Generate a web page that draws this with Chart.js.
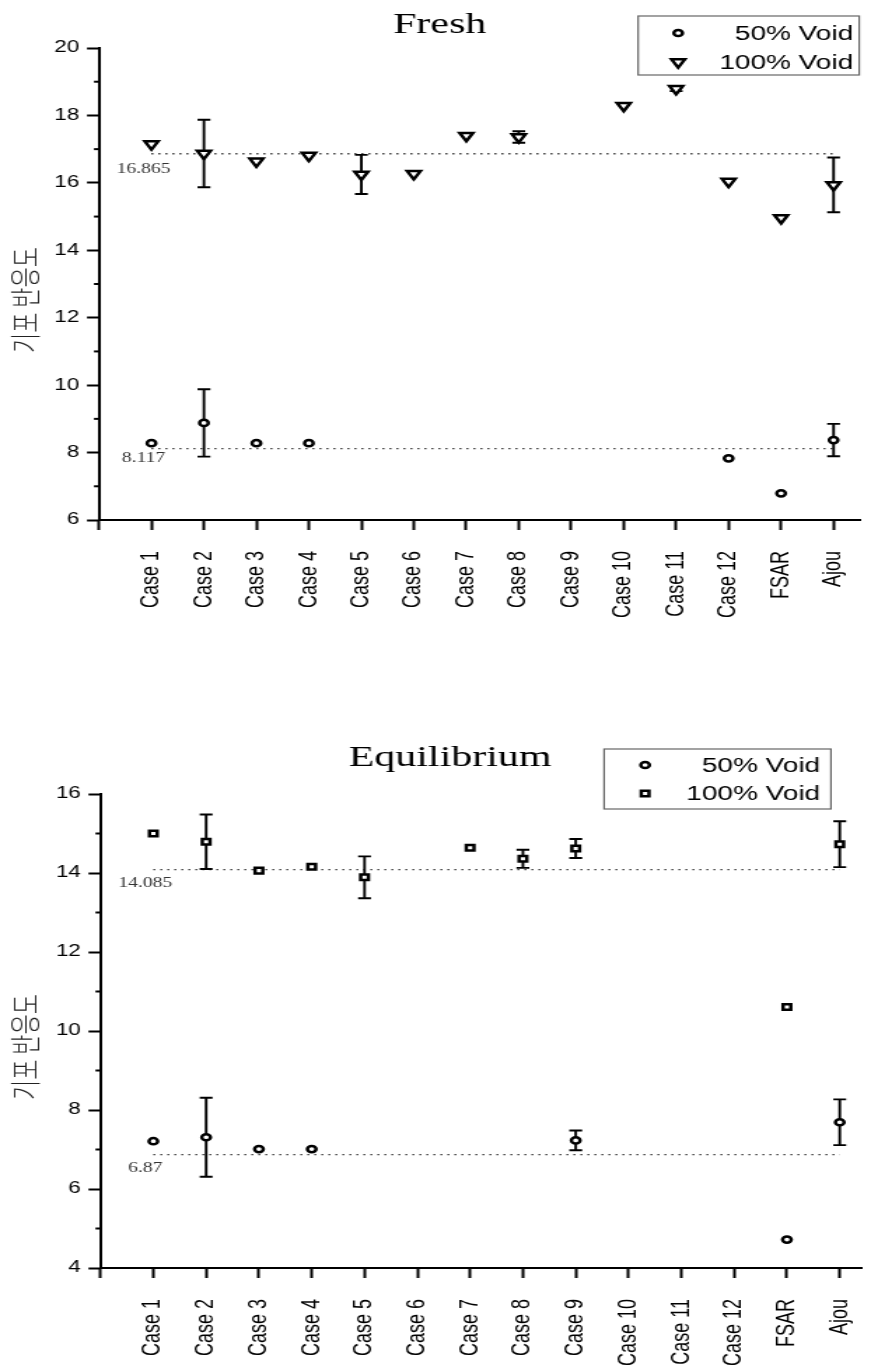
<!DOCTYPE html>
<html>
<head>
<meta charset="utf-8">
<title>Fresh / Equilibrium</title>
<script src="https://cdn.jsdelivr.net/npm/chart.js"></script>
<style>
  html, body { margin: 0; padding: 0; background: #fff; overflow: hidden; }
  canvas { display: block; }
</style>
</head>
<body>
<!-- the original figure is stretched sideways, so each canvas is drawn narrow and widened by css -->
<canvas id="fresh" width="622" height="650" style="width:871px;height:650px"></canvas>
<canvas id="equil" width="622" height="717" style="width:871px;height:717px"></canvas>
<script>
// ---- data ----
const categories = ['Case 1', 'Case 2', 'Case 3', 'Case 4', 'Case 5', 'Case 6', 'Case 7',
                    'Case 8', 'Case 9', 'Case 10', 'Case 11', 'Case 12', 'FSAR', 'Ajou'];
const seriesNames = ['50% Void', '100% Void'];

const freshVoid50     = [8.28, 8.88, 8.28, 8.28, null, null, null, null, null, null, null, 7.83, 6.79, 8.37];
const freshVoid50Err  = [0, 1.0, 0, 0, null, null, null, null, null, null, null, 0, 0, 0.48];
const freshVoid100    = [17.15, 16.87, 16.64, 16.81, 16.25, 16.27, 17.40, 17.36, null, 18.29, 18.79, 16.04, 14.96, 15.94];
const freshVoid100Err = [0, 1.0, 0, 0, 0.58, 0, 0, 0.17, null, 0, 0.07, 0, 0, 0.81];
const freshMeans      = [16.865, 8.117];

const eqVoid50     = [7.21, 7.31, 7.01, 7.01, null, null, null, null, 7.23, null, null, null, 4.72, 7.69];
const eqVoid50Err  = [0, 1.0, 0, 0, null, null, null, null, 0.25, null, null, null, 0, 0.58];
const eqVoid100    = [15.0, 14.79, 14.06, 14.16, 13.89, null, 14.64, 14.36, 14.62, null, null, null, 10.61, 14.73];
const eqVoid100Err = [0, 0.69, 0, 0, 0.53, null, 0, 0.23, 0.24, null, null, null, 0, 0.58];
const eqMeans      = [14.085, 6.87];

const yTitle = '기포 반응도';

Chart.defaults.font.family = "'Liberation Sans', Arial, sans-serif";
Chart.defaults.color = '#000';

function points(values, errors) {
    const out = [];
    values.forEach((v, i) => {
        if (v === null) return;
        out.push({ x: i + 1, y: v, err: errors[i] || 0 });
    });
    return out;
}

function dataset(label, values, errors, style, radius, rotation) {
    return {
        label: label,
        data: points(values, errors),
        showLine: false,
        pointStyle: style,
        pointRadius: radius,
        pointRotation: rotation || 0,
        pointBorderWidth: 2.5,
        pointBorderColor: '#000',
        pointBackgroundColor: '#fff',
        borderColor: '#000',
        backgroundColor: '#fff'
    };
}

function marker(ctx, ds, x, y) {
    ctx.save();
    ctx.strokeStyle = '#000';
    ctx.fillStyle = '#fff';
    ctx.lineWidth = ds.pointBorderWidth;
    Chart.helpers.drawPoint(ctx, {
        pointStyle: ds.pointStyle,
        radius: ds.pointRadius,
        rotation: ds.pointRotation,
        borderWidth: ds.pointBorderWidth
    }, x, y);
    ctx.restore();
}

// error bars, mean lines, minor ticks, title and legend box
const extras = {
    id: 'extras',
    beforeDatasetsDraw(chart, args, opts) {
        const ctx = chart.ctx, xs = chart.scales.x, ys = chart.scales.y;
        ctx.save();
        // dotted mean lines
        ctx.strokeStyle = '#222';
        ctx.lineWidth = 1.4;
        ctx.setLineDash([1.3, 3.7]);
        opts.means.forEach(m => {
            const py = ys.getPixelForValue(m);
            ctx.beginPath();
            ctx.moveTo(xs.getPixelForValue(1), py);
            ctx.lineTo(xs.getPixelForValue(14), py);
            ctx.stroke();
        });
        ctx.setLineDash([]);
        ctx.fillStyle = '#333';
        ctx.font = "14px 'Liberation Serif', serif";
        ctx.textAlign = 'center';
        ctx.textBaseline = 'middle';
        opts.means.forEach((m, i) => {
            ctx.fillText(String(m), xs.getPixelForValue(0.85), ys.getPixelForValue(m) + opts.meanLabelDy[i]);
        });
        // error bars
        ctx.strokeStyle = '#000';
        ctx.lineWidth = 1.9;
        chart.data.datasets.forEach(ds => {
            ds.data.forEach(p => {
                if (!p.err) return;
                const px = xs.getPixelForValue(p.x);
                const top = ys.getPixelForValue(p.y + p.err);
                const bot = ys.getPixelForValue(p.y - p.err);
                ctx.beginPath();
                ctx.moveTo(px, top); ctx.lineTo(px, bot);
                ctx.moveTo(px - 4.6, top); ctx.lineTo(px + 4.6, top);
                ctx.moveTo(px - 4.6, bot); ctx.lineTo(px + 4.6, bot);
                ctx.stroke();
            });
        });
        ctx.restore();
    },
    afterDraw(chart, args, opts) {
        const ctx = chart.ctx, ys = chart.scales.y, area = chart.chartArea;
        ctx.save();
        // minor ticks on the y axis
        ctx.strokeStyle = '#000';
        ctx.lineWidth = 2;
        for (let v = ys.min + 1; v < ys.max; v += 2) {
            const py = ys.getPixelForValue(v);
            ctx.beginPath();
            ctx.moveTo(area.left - 3.6, py);
            ctx.lineTo(area.left, py);
            ctx.stroke();
        }
        // title
        ctx.fillStyle = '#000';
        ctx.font = "30px 'Liberation Serif', serif";
        ctx.textAlign = 'center';
        ctx.textBaseline = 'alphabetic';
        ctx.fillText(opts.title, opts.titleX, opts.titleY);
        // y axis title
        ctx.save();
        ctx.translate(18, (area.top + area.bottom) / 2 + 16);
        ctx.rotate(-Math.PI / 2);
        ctx.fillStyle = '#222';
        ctx.font = "300 22px 'Noto Sans CJK KR', sans-serif";
        ctx.textBaseline = 'middle';
        ctx.fillText(yTitle, 0, 0);
        ctx.restore();
        // legend
        const lg = opts.legend;
        ctx.fillStyle = '#fff';
        ctx.fillRect(lg.x, lg.y, lg.w, lg.h);
        ctx.strokeStyle = '#666';
        ctx.lineWidth = 1.2;
        ctx.strokeRect(lg.x, lg.y, lg.w, lg.h);
        ctx.font = "20px 'Liberation Sans', Arial, sans-serif";
        ctx.textAlign = 'right';
        ctx.textBaseline = 'middle';
        chart.data.datasets.forEach((ds, i) => {
            marker(ctx, ds, lg.markerX, lg.rows[i]);
            ctx.fillStyle = '#000';
            ctx.fillText(ds.label, lg.textX, lg.rows[i] + 1);
        });
        ctx.restore();
    }
};

function makeChart(id, cfg) {
    return new Chart(document.getElementById(id), {
        type: 'scatter',
        data: { datasets: cfg.datasets },
        options: {
            responsive: false,
            animation: false,
            events: [],
            layout: { padding: { top: cfg.areaTop, right: 1.5, left: 0, bottom: 0 } },
            plugins: {
                legend: { display: false },
                title: { display: false },
                tooltip: { enabled: false },
                extras: cfg.extras
            },
            scales: {
                x: {
                    type: 'linear',
                    min: 0,
                    max: cfg.xMax,
                    afterFit: s => {
                        s.height = cfg.xAxisHeight;
                        // rotated labels would otherwise push the plot in from the right
                        s.paddingLeft = 0;
                        s.paddingRight = 0;
                    },
                    ticks: {
                        stepSize: 1, autoSkip: false, includeBounds: false,
                        minRotation: 90, maxRotation: 90, padding: 21,
                        color: '#000', font: { size: 18 },
                        callback: v => categories[v - 1] || ''
                    },
                    grid: { drawOnChartArea: false, drawTicks: true, tickLength: 10, tickColor: '#000', tickWidth: 2 },
                    border: { color: '#000', width: 2 }
                },
                y: {
                    min: cfg.yMin,
                    max: cfg.yMax,
                    afterFit: s => { s.width = cfg.yAxisWidth; },
                    ticks: { stepSize: 2, padding: 5.5, color: '#000', font: { size: 16 } },
                    grid: { drawOnChartArea: false, drawTicks: true, tickLength: 8.6, tickColor: '#000', tickWidth: 2 },
                    border: { color: '#000', width: 2 }
                }
            }
        },
        plugins: [extras]
    });
}

makeChart('fresh', {
    datasets: [
        dataset(seriesNames[0], freshVoid50, freshVoid50Err, 'circle', 3.1),
        dataset(seriesNames[1], freshVoid100, freshVoid100Err, 'triangle', 5.5, 180)
    ],
    yMin: 6, yMax: 20, xMax: 14.5,
    areaTop: 48, xAxisHeight: 130, yAxisWidth: 70.7,
    extras: {
        title: 'Fresh', titleX: 314, titleY: 33,
        means: freshMeans, meanLabelDy: [16, 10],
        legend: { x: 455.7, y: 16, w: 157.9, h: 59, markerX: 484.3, textX: 609.3, rows: [33, 62] }
    }
});

makeChart('equil', {
    datasets: [
        dataset(seriesNames[0], eqVoid50, eqVoid50Err, 'circle', 3.1),
        dataset(seriesNames[1], eqVoid100, eqVoid100Err, 'rect', 3.9)
    ],
    yMin: 4, yMax: 16, xMax: 14.42,
    areaTop: 144, xAxisHeight: 99, yAxisWidth: 71.8,
    extras: {
        title: 'Equilibrium', titleX: 321.4, titleY: 116,
        means: eqMeans, meanLabelDy: [14, 14],
        legend: { x: 431.4, y: 99, w: 162, h: 60, markerX: 460.7, textX: 585.7, rows: [115, 143.5] }
    }
});
</script>
</body>
</html>
